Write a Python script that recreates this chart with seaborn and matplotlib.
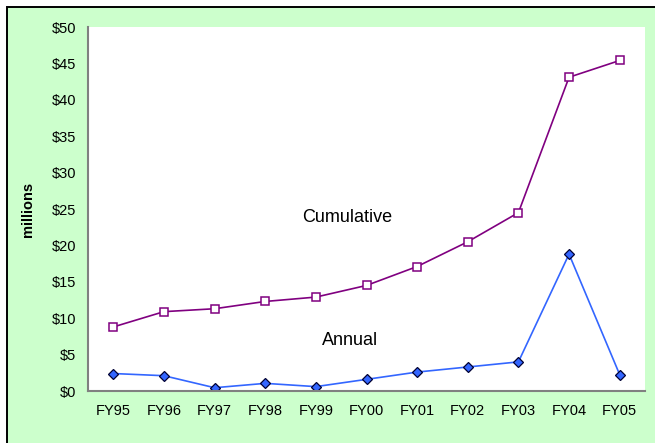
import matplotlib
matplotlib.use("Agg")
import matplotlib.pyplot as plt
from matplotlib.patches import Rectangle
import seaborn as sns
import pandas as pd

years = ["FY95", "FY96", "FY97", "FY98", "FY99", "FY00", "FY01", "FY02", "FY03", "FY04", "FY05"]
cumulative = [8.8, 10.9, 11.3, 12.3, 12.9, 14.5, 17.1, 20.5, 24.5, 43.1, 45.4]
annual = [2.4, 2.1, 0.45, 1.05, 0.6, 1.6, 2.6, 3.3, 4.0, 18.8, 2.25]
yticks = [0, 5, 10, 15, 20, 25, 30, 35, 40, 45, 50]
ytick_labels = ["$" + str(v) for v in yticks]

sns.set_theme(style="white")
plt.rcParams["font.family"] = ["Liberation Sans", "DejaVu Sans"]
plt.rcParams["text.color"] = "black"
plt.rcParams["axes.labelcolor"] = "black"
plt.rcParams["xtick.color"] = "black"
plt.rcParams["ytick.color"] = "black"

df = pd.DataFrame({"idx": list(range(len(years))), "year": years,
                   "cumulative": cumulative, "annual": annual})

fig = plt.figure(figsize=(6.55, 4.43), dpi=100)
fig.patch.set_facecolor("white")
bg = Rectangle((7 / 655, -0.1), 1.1, (443 - 7) / 443 + 0.1, transform=fig.transFigure,
               facecolor="#CCFFCC", edgecolor="black", linewidth=1.4, zorder=-10)
fig.patches.append(bg)

ax = fig.add_axes([88 / 655, 1 - 391 / 443, (645 - 88) / 655, (391 - 27) / 443])
ax.set_zorder(5)
ax.set_facecolor("white")

sns.lineplot(data=df, x="idx", y="cumulative", ax=ax, color="#800080", linewidth=1.2,
             marker="s", markersize=6, markerfacecolor="white", markeredgecolor="#800080",
             markeredgewidth=1.1)
sns.lineplot(data=df, x="idx", y="annual", ax=ax, color="#3366FF", linewidth=1.2,
             marker="D", markersize=5, markerfacecolor="#3366FF", markeredgecolor="#000033",
             markeredgewidth=0.9)

ax.set_xlim(-0.5, len(years) - 0.5)
ax.set_ylim(0, 50)
ax.set_xticks(range(len(years)))
ax.set_xticklabels(years, fontsize=10.5)
ax.set_yticks(yticks)
ax.set_yticklabels(ytick_labels, fontsize=10.5)
ax.tick_params(axis="y", length=0, pad=8.5, colors="black")
ax.tick_params(axis="x", length=0, pad=9.5, colors="black")
ax.set_xlabel("")
ax.set_ylabel("millions", fontsize=10.5, fontweight="bold", labelpad=12, color="black")

for side in ["top", "right"]:
    ax.spines[side].set_visible(False)
for side in ["left", "bottom"]:
    ax.spines[side].set_color("#808080")
    ax.spines[side].set_linewidth(1.5)

ax.text(4.61, 23.9, "Cumulative", fontsize=13, ha="center", va="center", color="black")
ax.text(4.67, 7.0, "Annual", fontsize=13, ha="center", va="center", color="black")

fig.savefig("out.png", dpi=100)
